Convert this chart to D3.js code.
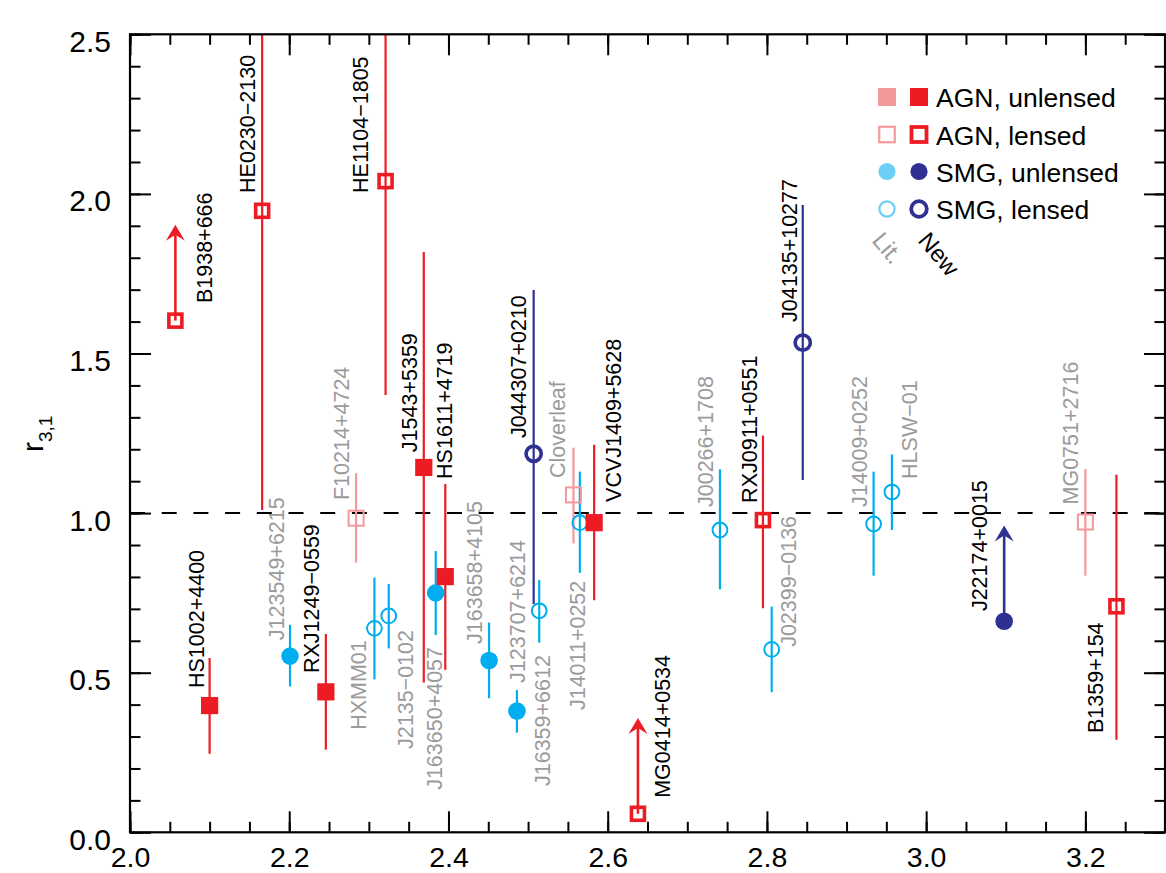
<!DOCTYPE html>
<html>
<head>
<meta charset="utf-8">
<script src="https://cdn.jsdelivr.net/npm/d3@7"></script>
<style>
  body { margin: 0; background: #fff; }
  svg { display: block; font-family: "Liberation Sans", Arial, Helvetica, sans-serif; }
</style>
</head>
<body>
<svg id="chart" width="1166" height="873"></svg>
<script>
// ---- data ----
const names = ["B1938+666", "HE0230\u22122130", "HE1104\u22121805", "HS1002+4400", "J123549+6215",
    "RXJ1249\u22120559", "HXMM01", "F10214+4724", "J2135\u22120102", "J163650+4057",
    "J1543+5359", "HS1611+4719", "J163658+4105", "J123707+6214", "J16359+6612",
    "J044307+0210", "Cloverleaf", "J14011+0252", "VCVJ1409+5628", "MG0414+0534",
    "J00266+1708", "RXJ0911+0551", "J02399\u22120136", "J04135+10277", "J14009+0252",
    "HLSW\u221201", "J22174+0015", "MG0751+2716", "B1359+154"];
const redshift = [2.057, 2.166, 2.321, 2.100, 2.201, 2.246, 2.307, 2.284, 2.325, 2.384,
    2.369, 2.396, 2.451, 2.486, 2.514, 2.507, 2.557, 2.565, 2.583, 2.638,
    2.741, 2.795, 2.806, 2.845, 2.934, 2.957, 3.098, 3.200, 3.239];
const r31 = [1.603, 1.947, 2.040, 0.397, 0.552, 0.440, 0.639, 0.984, 0.678, 0.750,
    1.143, 0.801, 0.538, 0.380, 0.694, 1.186, 1.057, 0.970, 0.970, 0.058,
    0.947, 0.978, 0.573, 1.534, 0.966, 1.066, 0.661, 0.972, 0.708];
const errLow = [null, 1.010, 1.370, 0.246, 0.457, 0.259, 0.479, 0.845, 0.576, 0.618,
    0.469, 0.509, 0.420, 0.312, 0.594, 0.715, 0.905, 0.813, 0.727, null,
    0.761, 0.702, 0.439, 1.104, 0.804, 0.947, null, 0.804, 0.290];
const errHigh = [null, 3.0, 3.0, 0.546, 0.650, 0.621, 0.798, 1.125, 0.778, 0.881,
    1.818, 1.091, 0.657, 0.446, 0.790, 1.699, 1.205, 1.130, 1.214, null,
    1.137, 1.243, 0.707, 1.965, 1.130, 1.184, null, 1.138, 1.120];
const objType = ["AGN", "AGN", "AGN", "AGN", "SMG", "AGN", "SMG", "AGN", "SMG", "SMG",
    "AGN", "AGN", "SMG", "SMG", "SMG", "SMG", "AGN", "SMG", "AGN", "AGN",
    "SMG", "AGN", "SMG", "SMG", "SMG", "SMG", "SMG", "AGN", "AGN"];
const lensed = [1, 1, 1, 0, 0, 0, 1, 1, 1, 0,
    0, 0, 0, 0, 1, 1, 1, 1, 0, 1,
    1, 1, 1, 1, 1, 1, 0, 1, 1];
const isNew = [1, 1, 1, 1, 0, 1, 0, 0, 0, 0,
    1, 1, 0, 0, 0, 1, 0, 0, 1, 1,
    0, 1, 0, 1, 0, 0, 1, 0, 1];
const lowerLimit = [1, 0, 0, 0, 0, 0, 0, 0, 0, 0,
    0, 0, 0, 0, 0, 0, 0, 0, 0, 1,
    0, 0, 0, 0, 0, 0, 1, 0, 0];

// where each rotated name starts (redshift, r31 of the text baseline start)
const labelX = [2.103, 2.157, 2.299, 2.093, 2.193, 2.237, 2.297, 2.275, 2.355, 2.392,
    2.360, 2.405, 2.442, 2.496, 2.527, 2.498, 2.547, 2.571, 2.617, 2.678,
    2.732, 2.787, 2.837, 2.838, 2.926, 2.989, 3.077, 3.191, 3.222];
const labelY = [1.658, 2.003, 2.003, 0.452, 0.602, 0.499, 0.321, 1.041, 0.261, 0.133,
    1.191, 1.107, 0.590, 0.468, 0.145, 1.235, 1.110, 0.383, 1.035, 0.108,
    1.019, 1.032, 0.581, 1.599, 1.019, 1.107, 0.693, 1.027, 0.311];

const xMajor = [2.0, 2.2, 2.4, 2.6, 2.8, 3.0, 3.2];
const yMajor = [0.0, 0.5, 1.0, 1.5, 2.0, 2.5];
const legendText = ["AGN, unlensed", "AGN, lensed", "SMG, unlensed", "SMG, lensed"];

const arrowLen = 0.3;   // length of the lower-limit arrows, in r31

// ---- layout ----
const plotL = 130, plotR = 1165, plotT = 34.3, plotB = 832.3;
const newRed = "#ed1c24", litRed = "#f4989b", newBlue = "#2e3192", litBlue = "#00aeef";
const keyRed = "#f4999b", keyBlue = "#6dcff6", grayText = "#9b9b9b";

const svg = d3.select("#chart");
const x = d3.scaleLinear().domain([2.0, 3.3]).range([plotL, plotR]);
const y = d3.scaleLinear().domain([0, 2.5]).range([plotB, plotT]);

function colorOf(i) {
    if (objType[i] === "AGN") return isNew[i] ? newRed : litRed;
    return isNew[i] ? newBlue : litBlue;
}

svg.append("clipPath").attr("id", "plot-clip")
    .append("rect")
    .attr("x", plotL).attr("y", plotT)
    .attr("width", plotR - plotL).attr("height", plotB - plotT);

const plot = svg.append("g").attr("clip-path", "url(#plot-clip)");

// dashed line at r31 = 1
plot.append("line")
    .attr("x1", plotL).attr("x2", plotR)
    .attr("y1", y(1)).attr("y2", y(1))
    .attr("stroke", "#000").attr("stroke-width", 2)
    .attr("stroke-dasharray", "15,16.7");

const idx = d3.range(names.length);

// error bars
plot.selectAll("line.err")
    .data(idx.filter(i => !lowerLimit[i]))
    .enter()
    .append("line")
    .attr("class", "err")
    .attr("x1", i => x(redshift[i])).attr("x2", i => x(redshift[i]))
    .attr("y1", i => y(errLow[i])).attr("y2", i => y(errHigh[i]))
    .attr("stroke", i => colorOf(i))
    .attr("stroke-width", 2.2);

// lower limit arrows
const arrows = plot.selectAll("g.arrow")
    .data(idx.filter(i => lowerLimit[i]))
    .enter()
    .append("g")
    .attr("class", "arrow");
arrows.append("line")
    .attr("x1", i => x(redshift[i])).attr("x2", i => x(redshift[i]))
    .attr("y1", i => y(r31[i]))
    .attr("y2", i => y(r31[i] + arrowLen) + 8)
    .attr("stroke", i => colorOf(i))
    .attr("stroke-width", 2.6);
arrows.append("path")
    .attr("d", i => {
        const ax = x(redshift[i]), ay = y(r31[i] + arrowLen);
        return `M${ax},${ay} L${ax + 9.5},${ay + 16} L${ax},${ay + 10} L${ax - 9.5},${ay + 16} Z`;
    })
    .attr("fill", i => colorOf(i));

// markers
const marks = plot.selectAll("g.mark")
    .data(idx)
    .enter()
    .append("g")
    .attr("class", "mark")
    .attr("transform", i => `translate(${x(redshift[i])},${y(r31[i])})`);

marks.each(function(i) {
    const g = d3.select(this);
    const c = colorOf(i);
    if (objType[i] === "AGN") {
        if (lensed[i]) {
            const sw = isNew[i] ? 3.6 : 2;
            const s = isNew[i] ? 13 : 15;
            g.append("rect").attr("x", -s / 2).attr("y", -s / 2)
                .attr("width", s).attr("height", s)
                .attr("fill", "none").attr("stroke", c).attr("stroke-width", sw);
        } else {
            g.append("rect").attr("x", -8.6).attr("y", -8.6)
                .attr("width", 17.2).attr("height", 17.2)
                .attr("fill", c);
        }
    } else {
        if (lensed[i]) {
            const sw = isNew[i] ? 3.6 : 2;
            g.append("circle").attr("r", isNew[i] ? 7.6 : 7.4)
                .attr("fill", "none").attr("stroke", c).attr("stroke-width", sw);
        } else {
            g.append("circle").attr("r", 8.8).attr("fill", c);
        }
    }
});

// object names
svg.append("g").selectAll("text.name")
    .data(idx)
    .enter()
    .append("text")
    .attr("class", "name")
    .attr("transform", i => `translate(${x(labelX[i])},${y(labelY[i])}) rotate(-90)`)
    .attr("font-size", 21.5)
    .attr("fill", i => isNew[i] ? "#000" : grayText)
    .text(i => names[i]);

// ---- axes (ticks inward on all four sides) ----
const minorX = d3.range(2.0, 3.3 + 1e-9, 0.05);
const minorY = d3.range(0, 2.5 + 1e-9, 0.1);

const axes = [
    { ax: d3.axisBottom(x), tr: `translate(0,${plotB})`, minor: minorX, major: xMajor, labels: true, side: "x", pad: 14, fs: 28.5 },
    { ax: d3.axisTop(x), tr: `translate(0,${plotT})`, minor: minorX, major: xMajor, labels: false, side: "x", pad: 14, fs: 28.5 },
    { ax: d3.axisLeft(y), tr: `translate(${plotL},0)`, minor: minorY, major: yMajor, labels: true, side: "y", pad: 19, fs: 30 },
    { ax: d3.axisRight(y), tr: `translate(${plotR},0)`, minor: minorY, major: yMajor, labels: false, side: "y", pad: 19, fs: 30 }
];

axes.forEach(a => {
    svg.append("g")
        .attr("transform", a.tr)
        .call(a.ax.tickValues(a.minor).tickSize(-10.5).tickFormat(""))
        .call(g => g.select(".domain").remove())
        .call(g => g.selectAll("line").attr("stroke", "#000").attr("stroke-width", 2));
    const major = svg.append("g")
        .attr("transform", a.tr)
        .call(a.ax.tickValues(a.major).tickSize(-21).tickPadding(a.pad)
            .tickFormat(a.labels ? d3.format(".1f") : ""))
        .call(g => g.select(".domain").remove())
        .call(g => g.selectAll("line").attr("stroke", "#000").attr("stroke-width", 2));
    major.selectAll("text")
        .attr("font-size", a.fs)
        .attr("font-family", "\"Liberation Sans\", Arial, Helvetica, sans-serif")
        .attr("fill", "#000");
    // y labels sit a little below their ticks in the original
    if (a.side === "y") major.selectAll("text").attr("dy", "17px");
});

// frame
svg.append("rect")
    .attr("x", plotL).attr("y", plotT)
    .attr("width", plotR - plotL).attr("height", plotB - plotT)
    .attr("fill", "none").attr("stroke", "#000").attr("stroke-width", 2.2);

// y title r_{3,1}
const ytitle = svg.append("text")
    .attr("transform", "translate(43,452) rotate(-90)")
    .attr("font-size", 30)
    .attr("fill", "#000");
ytitle.append("tspan").text("r");
ytitle.append("tspan").attr("font-size", 19).attr("dy", 9).text("3,1");

// ---- legend ----
const keyRows = [98, 135.5, 172.5, 210];
const keyLitX = 887, keyNewX = 919, keyTextX = 936;
const legend = svg.append("g");
legendText.forEach((t, k) => {
    const cy = keyRows[k];
    const isAgn = k < 2, isLensed = k % 2 === 1;
    [[keyLitX, false], [keyNewX, true]].forEach(([cx, nw]) => {
        const c = isAgn ? (nw ? newRed : keyRed) : (nw ? newBlue : keyBlue);
        if (isAgn) {
            if (isLensed) {
                const s = nw ? 15 : 15.5, sw = nw ? 3.8 : 2.2;
                legend.append("rect").attr("x", cx - s / 2).attr("y", cy - s / 2 - 1)
                    .attr("width", s).attr("height", s)
                    .attr("fill", "none").attr("stroke", c).attr("stroke-width", sw);
            } else {
                legend.append("rect").attr("x", cx - 9).attr("y", cy - 10)
                    .attr("width", 18).attr("height", 18).attr("fill", c);
            }
        } else {
            if (isLensed) {
                legend.append("circle").attr("cx", cx).attr("cy", cy - 1).attr("r", nw ? 7.8 : 7.6)
                    .attr("fill", "none").attr("stroke", c).attr("stroke-width", nw ? 3.8 : 2.2);
            } else {
                legend.append("circle").attr("cx", cx).attr("cy", cy - 1).attr("r", 8.6).attr("fill", c);
            }
        }
    });
    legend.append("text")
        .attr("x", keyTextX).attr("y", cy + 9)
        .attr("font-size", 26.5)
        .attr("fill", "#000")
        .text(t);
});
legend.append("text")
    .attr("transform", "translate(871,241) rotate(50)")
    .attr("font-size", 24).attr("fill", grayText).text("Lit.");
legend.append("text")
    .attr("transform", "translate(917,241) rotate(50)")
    .attr("font-size", 24).attr("fill", "#000").text("New");
</script>
</body>
</html>
